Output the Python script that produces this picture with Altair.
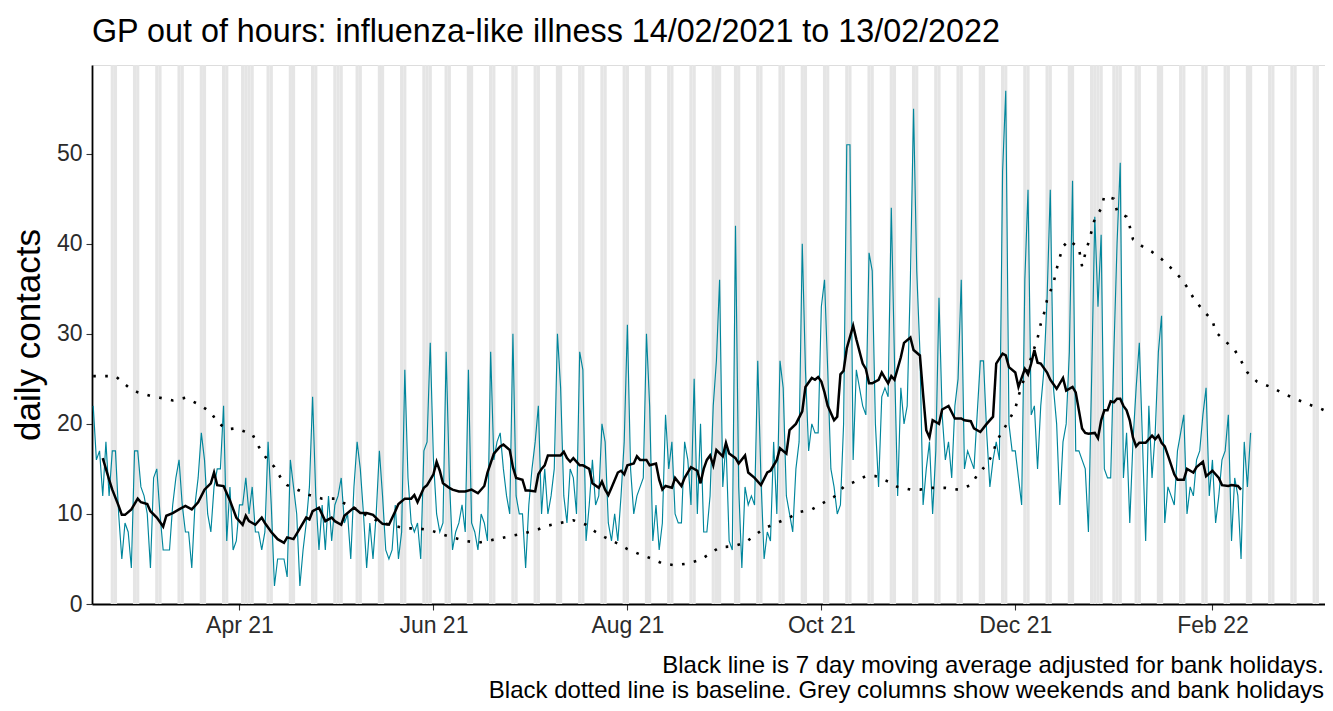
import altair as alt
import pandas as pd

# ---------------- data ----------------
start_date = "2021-02-14"   # first day of the daily series (a Sunday)

# daily GP out-of-hours contacts, 14/02/2021 .. 13/02/2022 (one row per week, Sun..Sat)
daily_contacts = [
    22, 16, 17, 12, 18, 12, 17,
    17, 10, 5, 9, 8, 4, 17,
    17, 13, 12, 10, 4, 14, 15,
    10, 6, 6, 6, 11, 14, 16,
    11, 8, 8, 4, 11, 14, 19,
    16, 10, 8, 13, 15, 15, 22,
    7, 13, 6, 7, 11, 11, 14,
    10, 13, 8, 8, 6, 8, 18,
    11, 2, 5, 5, 5, 3, 16,
    13, 10, 2, 6, 9, 13, 23,
    12, 6, 11, 6, 12, 7, 11,
    12, 14, 9, 10, 5, 13, 18,
    15, 10, 4, 9, 5, 10, 17,
    12, 6, 5, 6, 11, 5, 8,
    26, 14, 9, 8, 9, 5, 17,
    18, 29, 16, 10, 8, 9, 28,
    14, 6, 8, 9, 11, 8, 26,
    9, 8, 6, 10, 9, 7, 28,
    16, 18, 19, 15, 12, 10, 30,
    12, 10, 10, 4, 11, 15, 18,
    22, 10, 15, 10, 12, 15, 30,
    24, 12, 9, 15, 14, 10, 28,
    26, 7, 11, 16, 11, 12, 20,
    18, 9, 7, 10, 7, 12, 18,
    31, 15, 10, 12, 13, 14, 30,
    22, 7, 11, 6, 9, 21, 15,
    18, 10, 9, 9, 18, 16, 11,
    25, 10, 20, 8, 8, 12, 22,
    27, 36, 13, 18, 7, 6, 42,
    13, 4, 13, 11, 12, 11, 27,
    14, 5, 8, 7, 18, 10, 27,
    24, 12, 10, 8, 15, 18, 40,
    26, 17, 20, 19, 19, 33, 36,
    26, 15, 13, 10, 11, 20, 51,
    51, 16, 26, 24, 22, 21, 39,
    37, 20, 13, 23, 24, 23, 44,
    27, 12, 24, 20, 22, 36, 55,
    37, 28, 11, 15, 18, 10, 17,
    34, 21, 16, 18, 14, 22, 25,
    36, 15, 17, 16, 15, 21, 27,
    27, 19, 13, 16, 18, 16, 48,
    57, 20, 17, 17, 14, 11, 36,
    46, 21, 22, 15, 22, 26, 34,
    46, 24, 20, 11, 18, 20, 28,
    47, 17, 17, 16, 15, 8, 25,
    43, 33, 41, 15, 14, 14, 28,
    40, 49, 14, 19, 9, 18, 24,
    29, 18, 7, 22, 14, 19, 28,
    32, 9, 13, 12, 11, 17, 19,
    21, 10, 13, 12, 16, 17, 21,
    24, 12, 16, 9, 12, 16, 17,
    21, 7, 14, 12, 5, 18, 13,
    19,
]

# 7 day moving average (day offset from start_date, value)
ma_days = [
    3, 5, 6, 8, 9, 10, 12, 14, 15, 17,
    18, 20, 22, 23, 25, 27, 29, 31, 33, 35,
    37, 38, 39, 41, 43, 45, 47, 48, 49, 51,
    53, 54, 56, 58, 60, 61, 63, 65, 67, 68,
    69, 71, 73, 75, 76, 78, 79, 82, 84, 86,
    88, 90, 91, 93, 95, 96, 98, 100, 101, 102,
    104, 105, 107, 108, 109, 110, 112, 113, 115, 117,
    119, 121, 123, 124, 126, 128, 129, 131, 132, 133,
    135, 136, 137, 139, 140, 141, 142, 143, 145, 147,
    148, 149, 150, 151, 153, 154, 156, 157, 159, 160,
    161, 162, 163, 165, 166, 167, 168, 170, 171, 172,
    174, 175, 177, 178, 179, 180, 182, 183, 185, 186,
    188, 190, 191, 192, 193, 194, 195, 196, 198, 199,
    200, 202, 203, 205, 206, 208, 210, 212, 213, 215,
    216, 218, 219, 221, 223, 224, 226, 227, 228, 229,
    230, 231, 233, 234, 235, 236, 237, 239, 240, 242,
    243, 244, 245, 247, 248, 250, 251, 252, 254, 255,
    257, 258, 260, 261, 262, 263, 264, 266, 267, 269,
    271, 273, 274, 276, 277, 279, 281, 283, 284, 286,
    287, 288, 290, 291, 292, 293, 294, 295, 296, 297,
    298, 300, 301, 303, 305, 306, 308, 309, 310, 311,
    312, 313, 315, 316, 317, 318, 319, 320, 321, 322,
    323, 324, 325, 326, 327, 328, 329, 331, 333, 334,
    335, 336, 337, 338, 340, 341, 343, 344, 346, 347,
    349, 350, 352, 354, 355, 357, 358, 360, 361,
]
ma_values = [
    16.2, 13.8, 12.7, 10.9, 9.9, 9.9, 10.5, 11.7, 11.3, 11.1,
    10.3, 9.6, 8.6, 9.8, 10.1, 10.5, 10.9, 10.5, 11.3, 12.7,
    13.4, 14.6, 13.2, 13.1, 11.5, 9.6, 8.8, 9.8, 9.2, 8.8,
    9.6, 9.0, 8.0, 7.2, 6.8, 7.4, 7.2, 8.4, 9.6, 9.4,
    10.3, 10.7, 9.2, 9.6, 9.2, 8.8, 9.8, 10.7, 10.1, 10.1,
    9.9, 9.2, 8.9, 8.8, 10.3, 11.1, 11.7, 11.7, 12.1, 11.3,
    12.9, 13.2, 14.4, 15.8, 14.8, 13.4, 12.9, 12.7, 12.5, 12.5,
    12.7, 12.3, 13.1, 14.6, 16.7, 17.5, 17.7, 17.1, 15.2, 14.0,
    13.8, 12.6, 12.6, 12.5, 14.4, 15.0, 15.4, 16.5, 16.5, 16.5,
    16.9, 16.2, 15.8, 16.2, 15.4, 15.4, 15.0, 13.4, 12.9, 13.6,
    12.7, 12.1, 12.9, 14.6, 14.8, 14.4, 15.4, 15.6, 16.4, 16.0,
    16.0, 15.4, 15.6, 13.8, 12.7, 13.1, 12.9, 14.0, 13.1, 14.0,
    15.2, 14.8, 13.4, 15.0, 16.0, 16.5, 15.4, 17.1, 16.4, 17.9,
    16.7, 16.2, 15.6, 16.5, 14.6, 14.0, 13.2, 14.6, 14.8, 16.0,
    17.3, 16.7, 19.3, 20.0, 21.4, 24.1, 25.1, 24.9, 25.2, 24.7,
    23.5, 22.0, 20.4, 20.8, 25.5, 25.9, 28.4, 30.9, 29.4, 26.7,
    26.1, 24.5, 24.5, 24.9, 25.7, 24.5, 25.3, 24.9, 27.4, 29.0,
    29.6, 28.2, 27.6, 23.3, 19.3, 18.5, 20.4, 20.0, 21.6, 22.0,
    20.6, 20.6, 20.4, 20.3, 19.5, 19.1, 20.0, 20.8, 26.7, 27.8,
    27.6, 26.3, 25.7, 24.1, 25.1, 26.1, 25.5, 26.7, 28.2, 26.8,
    26.7, 25.7, 24.9, 23.9, 25.1, 23.7, 24.1, 23.5, 21.5, 19.5,
    19.0, 18.9, 19.0, 18.4, 20.4, 21.5, 21.5, 22.5, 22.4, 22.8,
    22.8, 22.0, 21.5, 20.4, 18.5, 17.5, 17.9, 17.9, 18.7, 18.3,
    18.7, 17.9, 17.5, 16.5, 14.4, 13.8, 13.8, 15.0, 14.6, 15.2,
    15.8, 14.2, 14.8, 14.0, 13.2, 13.1, 13.2, 13.1, 12.7,
]

# baseline (day offset from start_date, value)
baseline_days = [
    0, 4, 7, 11, 14, 18, 21, 25, 29, 33,
    37, 39, 42, 45, 48, 50, 52, 54, 57, 59,
    61, 68, 72, 76, 80, 83, 87, 91, 98, 102,
    106, 110, 113, 117, 121, 124, 128, 132, 136, 140,
    143, 147, 151, 155, 158, 161, 165, 168, 172, 176,
    179, 183, 187, 191, 194, 197, 201, 205, 208, 211,
    215, 219, 222, 226, 229, 233, 236, 239, 243, 246,
    250, 253, 257, 260, 264, 268, 272, 276, 278, 281,
    283, 284, 286, 288, 290, 291, 297, 298, 299, 300,
    302, 303, 304, 305, 307, 310, 311, 312, 313, 314,
    315, 317, 318, 321, 322, 325, 326, 327, 330, 333,
    336, 339, 342, 344, 346, 349, 352, 353, 356, 359,
    361, 363, 366, 371, 374, 378, 382, 386, 389,
]
baseline_values = [
    25.3, 25.3, 25.3, 24.1, 23.5, 23.1, 22.9, 22.6, 22.9, 22.2,
    21.3, 20.2, 19.4, 19.5, 19.1, 18.9, 17.5, 16.4, 15.2, 14.0,
    13.2, 12.1, 11.7, 11.7, 11.0, 10.5, 9.6, 9.0, 8.4, 8.4,
    8.2, 7.7, 7.4, 7.0, 6.8, 7.0, 7.3, 7.6, 7.9, 8.3,
    8.7, 9.0, 9.3, 8.8, 8.0, 7.4, 6.7, 6.1, 5.5, 5.0,
    4.5, 4.3, 4.5, 4.9, 5.6, 6.3, 6.4, 6.8, 7.6, 8.4,
    9.0, 9.6, 10.2, 10.5, 11.1, 11.9, 13.0, 13.5, 14.2, 14.2,
    13.6, 13.0, 12.7, 12.7, 12.9, 12.9, 12.7, 13.2, 14.3, 15.5,
    16.7, 18.0, 19.2, 20.4, 21.7, 23.1, 29.5, 31.1, 32.2, 33.8,
    35.6, 37.2, 38.5, 39.7, 40.4, 39.5, 37.5, 38.9, 40.1, 41.4,
    42.8, 43.9, 45.3, 45.0, 43.6, 43.0, 41.9, 40.5, 39.7, 39.1,
    38.3, 37.3, 36.2, 35.2, 34.0, 32.6, 31.5, 30.2, 29.2, 28.2,
    27.0, 25.7, 24.7, 24.0, 23.4, 22.8, 22.2, 21.7, 21.2,
]

bank_holidays = ["2021-04-02", "2021-04-05", "2021-05-03", "2021-05-31",
                 "2021-08-30", "2021-12-27", "2021-12-28", "2022-01-03"]

tick_dates = ["2021-04-01", "2021-06-01", "2021-08-01",
              "2021-10-01", "2021-12-01", "2022-02-01"]
y_ticks = [0, 10, 20, 30, 40, 50]

title_text = "GP out of hours: influenza-like illness 14/02/2021 to 13/02/2022"
y_title = "daily contacts"
caption_1 = "Black line is 7 day moving average adjusted for bank holidays."
caption_2 = "Black dotted line is baseline. Grey columns show weekends and bank holidays"

# ---------------- build tables ----------------
DAY = 86400000
t0 = pd.Timestamp(start_date, tz="UTC")
t0ms = int(t0.value // 10**6)


def day_ms(d):
    return int(t0ms + d * DAY)


daily_df = pd.DataFrame({
    "date": [day_ms(i) for i in range(len(daily_contacts))],
    "value": daily_contacts,
})
n_ma = min(len(ma_days), len(ma_values))
ma_df = pd.DataFrame({"date": [day_ms(d) for d in ma_days[:n_ma]],
                      "value": ma_values[:n_ma]})
n_b = min(len(baseline_days), len(baseline_values))
base_df = pd.DataFrame({"date": [day_ms(d) for d in baseline_days[:n_b]],
                        "value": baseline_values[:n_b]})

bh = set(pd.Timestamp(s, tz="UTC") for s in bank_holidays)
tile_rows = []
for d in range(1, 390):
    ts = t0 + pd.Timedelta(days=d)
    if ts.weekday() >= 5 or ts in bh:
        tile_rows.append({"start": day_ms(d - 0.5), "end": day_ms(d + 0.5)})
tiles_df = pd.DataFrame(tile_rows)

tick_ms = [int(pd.Timestamp(s, tz="UTC").value // 10**6) for s in tick_dates]

# ---------------- chart ----------------
W, H = 1233, 539
FONT = "Liberation Sans"
TEAL = "#00869C"
LABEL_COLOR = "#2b2b2b"

x_scale = alt.Scale(type="utc", domain=[day_ms(-0.38), day_ms(387.4)], nice=False)
y_scale = alt.Scale(domain=[0, 59.85], nice=False, zero=True)

x_axis = alt.Axis(values=tick_ms, labelExpr="utcFormat(datum.value, '%b %y')", title=None,
                  grid=False, labelFont=FONT, labelFontSize=23, labelColor=LABEL_COLOR,
                  labelPadding=4, tickSize=6, tickColor="#333333", tickWidth=1.1,
                  domainColor="black", domainWidth=1.8, labelFlush=False)
y_axis = alt.Axis(values=y_ticks, title=y_title, grid=False,
                  labelFont=FONT, labelFontSize=23, labelColor=LABEL_COLOR,
                  labelPadding=4, tickSize=6, tickColor="#333333", tickWidth=1.1,
                  domainColor="black", domainWidth=1.8,
                  titleFont=FONT, titleFontSize=35, titleFontWeight="normal",
                  titleColor="black", titleAngle=270, titleX=-64, titleY=H / 2,
                  titleAlign="center", titleBaseline="middle")

tiles = alt.Chart(tiles_df).mark_rect(color="#E5E5E5", clip=True).encode(
    x=alt.X("start:T", scale=x_scale, axis=x_axis),
    x2="end:T",
    y=alt.value(0),
    y2=alt.value(H),
)

daily_line = alt.Chart(daily_df).mark_line(color=TEAL, strokeWidth=1.15, clip=True).encode(
    x=alt.X("date:T", scale=x_scale, axis=x_axis),
    y=alt.Y("value:Q", scale=y_scale, axis=y_axis),
)

base_line = alt.Chart(base_df).mark_line(color="black", strokeWidth=2.6,
                                         strokeDash=[2.6, 9.4], clip=True).encode(
    x=alt.X("date:T", scale=x_scale, axis=x_axis),
    y=alt.Y("value:Q", scale=y_scale, axis=y_axis),
)

ma_line = alt.Chart(ma_df).mark_line(color="black", strokeWidth=2.5, clip=True).encode(
    x=alt.X("date:T", scale=x_scale, axis=x_axis),
    y=alt.Y("value:Q", scale=y_scale, axis=y_axis),
)

title_mark = alt.Chart(pd.DataFrame({"t": [title_text]})).mark_text(
    align="left", baseline="alphabetic", font=FONT, fontSize=32.3, color="black"
).encode(text="t:N", x=alt.value(0), y=alt.value(-23))

cap1 = alt.Chart(pd.DataFrame({"t": [caption_1]})).mark_text(
    align="right", baseline="alphabetic", font=FONT, fontSize=24, color="black"
).encode(text="t:N", x=alt.value(W - 1), y=alt.value(H + 69))

cap2 = alt.Chart(pd.DataFrame({"t": [caption_2]})).mark_text(
    align="right", baseline="alphabetic", font=FONT, fontSize=24, color="black"
).encode(text="t:N", x=alt.value(W - 1), y=alt.value(H + 94))

chart = alt.layer(tiles, daily_line, base_line, ma_line, title_mark, cap1, cap2).properties(
    width=W, height=H,
    padding={"left": 84, "top": 57, "right": 0, "bottom": 99},
    autosize=alt.AutoSizeParams(type="none"),
).configure_view(stroke=None).configure(background="white")

chart.save("out.html", embed_options={"renderer": "svg", "actions": False})
